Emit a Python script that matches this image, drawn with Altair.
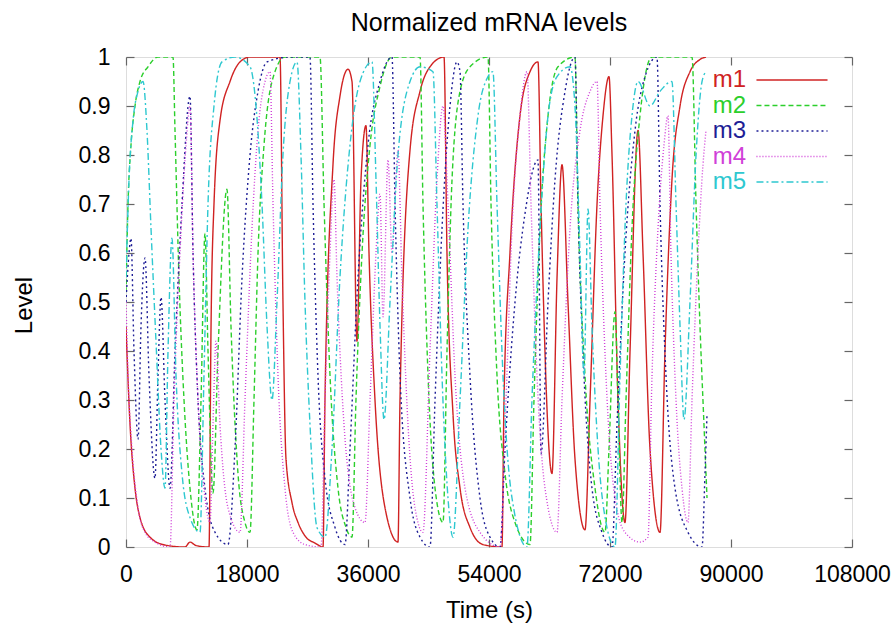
import altair as alt
import pandas as pd

# ---- data (time in s, normalized level) ----
series_names = ["m1", "m2", "m3", "m4", "m5"]

m1_t = [0, 600, 1340, 2080, 3570, 5800, 8780, 9520, 10410, 12350, 12650, 13090, 13980, 15470, 16960, 18450,
        22910, 23350, 23800, 24700, 25590, 26780, 28120, 29310, 29600, 30790, 31830, 33030, 33620, 34360, 34960,
        35700, 36150, 37040, 38530, 40460, 40760, 42250, 43740, 45220, 47310, 47750, 48650, 49690, 51170, 53110,
        55930, 56230, 57120, 58610, 60100, 61290, 61740, 63370, 64120, 64860, 65750, 66790, 68280, 69030, 70070,
        70960, 71850, 72300, 73190, 74230, 74980, 76170, 76910, 77950, 79440, 80180, 81220, 82420, 83900, 85390, 86280]
m1_v = [0.45, 0.25, 0.12, 0.06, 0.02, 0.004, 0.0, 0.01, 0.003, 0.0, 0.45, 0.7, 0.87, 0.95, 0.99, 1.0,
        1.0, 0.5, 0.18, 0.09, 0.05, 0.02, 0.008, 0.0, 0.3, 0.78, 0.92, 0.975, 0.95, 0.42, 0.75,
        0.86, 0.6, 0.3, 0.08, 0.01, 0.3, 0.81, 0.93, 0.98, 1.0, 0.6, 0.27, 0.12, 0.04, 0.005,
        0.0, 0.3, 0.6, 0.88, 0.97, 0.99, 0.7, 0.15, 0.55, 0.78, 0.5, 0.18, 0.035, 0.3, 0.7,
        0.88, 0.96, 0.8, 0.3, 0.05, 0.4, 0.85, 0.6, 0.2, 0.03, 0.4, 0.75, 0.9, 0.97, 0.995, 1.0]

m2_t = [0, 300, 740, 1340, 2080, 3270, 4760, 6990, 7290, 7880, 8630, 9520, 10560, 11160, 11750, 12200, 12940,
        13690, 15020, 15620, 16660, 17700, 18450, 19040, 19640, 20530, 21720, 23650, 28860, 29460, 30350, 31540,
        32730, 33620, 34210, 35110, 36300, 37790, 39570, 43740, 44180, 44930, 45970, 47160, 47750, 48500, 49690,
        51170, 53850, 54300, 55190, 56380, 57870, 60100, 60690, 61590, 62780, 64260, 66790, 67240, 68280, 69770,
        71260, 71850, 72740, 73190, 73790, 74380, 75270, 76460, 78250, 84200, 84800, 85390, 85980, 86430]
m2_v = [0.52, 0.7, 0.82, 0.9, 0.95, 0.98, 1.0, 1.0, 0.85, 0.55, 0.3, 0.12, 0.035, 0.3, 0.64, 0.4, 0.11,
        0.4, 0.73, 0.45, 0.15, 0.05, 0.03, 0.3, 0.6, 0.82, 0.95, 1.0, 1.0, 0.7, 0.35, 0.12,
        0.04, 0.02, 0.3, 0.6, 0.82, 0.94, 1.0, 1.0, 0.7, 0.35, 0.12, 0.05, 0.4, 0.75, 0.93,
        0.98, 1.0, 0.7, 0.35, 0.15, 0.05, 0.005, 0.3, 0.65, 0.88, 0.98, 1.0, 0.7, 0.35, 0.12,
        0.03, 0.2, 0.48, 0.3, 0.05, 0.3, 0.65, 0.88, 1.0, 1.0, 0.7, 0.45, 0.25, 0.1]

m3_t = [0, 450, 740, 1190, 1790, 2230, 2830, 3420, 4310, 4760, 5210, 5800, 6550, 7290, 8330, 9520, 9970,
        10710, 11750, 13240, 15170, 16210, 17260, 18450, 19640, 20980, 24400, 27370, 27820, 28560, 29600, 31090,
        32580, 33320, 34510, 36000, 37790, 39570, 40020, 40760, 42250, 43740, 45220, 45970, 47010, 48200, 49240,
        49690, 50130, 51170, 52660, 54150, 55640, 56380, 57870, 59350, 61290, 61740, 62780, 63820, 65310, 66790,
        67240, 68130, 69320, 70810, 72300, 73040, 74230, 75720, 77210, 78990, 79440, 80330, 81670, 83600, 85690,
        86130, 86430]
m3_v = [0.5, 0.6, 0.63, 0.4, 0.22, 0.45, 0.59, 0.35, 0.14, 0.35, 0.51, 0.3, 0.12, 0.4, 0.7, 0.92, 0.6,
        0.3, 0.12, 0.03, 0.005, 0.2, 0.55, 0.8, 0.93, 0.99, 1.0, 1.0, 0.7, 0.35, 0.14, 0.04,
        0.005, 0.2, 0.55, 0.82, 0.95, 1.0, 0.7, 0.35, 0.1, 0.02, 0.0, 0.3, 0.65, 0.9, 0.99,
        0.97, 0.7, 0.35, 0.1, 0.02, 0.0, 0.2, 0.5, 0.68, 0.79, 0.19, 0.5, 0.75, 0.93, 1.0,
        0.7, 0.35, 0.12, 0.03, 0.0, 0.25, 0.6, 0.85, 0.96, 1.0, 0.7, 0.35, 0.12, 0.03, 0.0,
        0.15, 0.27]

m4_t = [0, 300, 890, 1790, 2830, 4310, 6550, 7140, 8030, 8930, 9520, 9970, 10710, 11750, 12500, 12940, 13390,
        13980, 15170, 16960, 17700, 18740, 19640, 20680, 21420, 21870, 22610, 23650, 24840, 26630, 29010, 29600,
        30350, 30940, 31390, 32430, 34070, 35550, 36300, 37190, 37790, 38230, 38980, 39570, 40460, 41050, 41950,
        42990, 44180, 45220, 46260, 47160, 47900, 48940, 50430, 52660, 55640, 56530, 57420, 58610, 59650, 60250,
        61140, 62330, 64120, 64860, 66050, 67540, 69030, 70070, 70510, 71400, 72740, 74230, 76460, 77650, 78250,
        79140, 80030, 80620, 81070, 81820, 82710, 83600, 84200, 85090, 85830, 86280]
m4_v = [0.5, 0.35, 0.2, 0.08, 0.03, 0.01, 0.0, 0.3, 0.6, 0.82, 0.9, 0.6, 0.3, 0.1, 0.05, 0.25, 0.42,
        0.25, 0.08, 0.03, 0.3, 0.65, 0.85, 0.95, 0.97, 0.7, 0.35, 0.12, 0.03, 0.005, 0.0, 0.3,
        0.6, 0.75, 0.55, 0.25, 0.08, 0.05, 0.3, 0.6, 0.72, 0.47, 0.79, 0.6, 0.81, 0.55, 0.25,
        0.08, 0.03, 0.4, 0.75, 0.9, 0.7, 0.35, 0.12, 0.03, 0.0, 0.3, 0.65, 0.88, 0.97, 0.7,
        0.35, 0.12, 0.03, 0.3, 0.65, 0.85, 0.93, 0.95, 0.7, 0.35, 0.1, 0.03, 0.01, 0.02, 0.35,
        0.65, 0.82, 0.88, 0.6, 0.3, 0.12, 0.05, 0.3, 0.6, 0.78, 0.85]

m5_t = [0, 450, 1040, 1790, 2530, 3120, 3720, 4460, 5210, 5800, 6250, 6840, 7440, 8330, 9520, 11010, 11600,
        12200, 13090, 14280, 16210, 18450, 19340, 20230, 20980, 21720, 22460, 23350, 24400, 25440, 26030, 26630,
        27370, 28410, 29600, 30640, 31830, 33320, 34810, 36600, 37190, 37790, 38380, 39270, 40460, 42250, 43740,
        45670, 46260, 47010, 47900, 48650, 49690, 50880, 52360, 53850, 54590, 55190, 56080, 57420, 59650, 60390,
        61590, 62780, 64120, 66050, 66790, 67540, 68130, 68730, 69320, 70220, 71400, 72740, 73490, 74380, 75270,
        76170, 77950, 79440, 81220, 81820, 82420, 83010, 83900, 84800, 85690, 86280]
m5_v = [0.55, 0.75, 0.87, 0.93, 0.95, 0.85, 0.65, 0.42, 0.2, 0.12, 0.4, 0.63, 0.35, 0.15, 0.06, 0.03, 0.35,
        0.7, 0.9, 0.99, 1.0, 0.98, 0.9, 0.7, 0.45, 0.3, 0.5, 0.8, 0.95, 0.99, 0.8, 0.5,
        0.25, 0.04, 0.02, 0.2, 0.55, 0.82, 0.95, 0.99, 0.75, 0.45, 0.26, 0.5, 0.8, 0.95, 0.98,
        0.97, 0.7, 0.35, 0.1, 0.02, 0.3, 0.65, 0.88, 0.96, 0.97, 0.7, 0.35, 0.1, 0.0, 0.3,
        0.65, 0.88, 0.96, 0.98, 0.9, 0.6, 0.35, 0.69, 0.45, 0.2, 0.05, 0.0, 0.35, 0.7, 0.88,
        0.95, 0.9, 0.93, 0.95, 0.7, 0.45, 0.26, 0.5, 0.8, 0.95, 0.97]

x_ticks = [0, 18000, 36000, 54000, 72000, 90000, 108000]
y_ticks = [0, 0.1, 0.2, 0.3, 0.4, 0.5, 0.6, 0.7, 0.8, 0.9, 1]

line_colors = ["#d02222", "#2ccf2c", "#1e1e96", "#d040d8", "#2ec8d0"]
line_dashes = [[1, 0], [5, 3], [2, 3], [1, 2], [7, 3, 2, 3]]

# ---- build table ----
rows = []
for name, ts, vs in zip(series_names, [m1_t, m2_t, m3_t, m4_t, m5_t], [m1_v, m2_v, m3_v, m4_v, m5_v]):
    for t, v in zip(ts, vs):
        rows.append({"t": t, "v": v, "series": name})
df = pd.DataFrame(rows)
frame_df = pd.DataFrame({"t": [x_ticks[0], x_ticks[-1]], "v": [y_ticks[0], y_ticks[-1]]})

W, H = 726, 490
FONT = "Liberation Sans"
GRAY = "#666666"

xscale = alt.Scale(domain=[0, 108000], nice=False, zero=False)
yscale = alt.Scale(domain=[0, 1], nice=False, zero=False)

legend = alt.Legend(
    title=None, orient="none", legendX=654, legendY=11, padding=0,
    symbolType="M-5,0H5", symbolSize=202, symbolStrokeWidth=1.4,
    labelAlign="right", labelOffset={"expr": "-58"}, labelBaseline="middle",
    labelFont=FONT, labelFontSize=24, rowPadding=1.5,
    labelColor={"expr": "scale('color', datum.value)"},
)

lines = alt.Chart(df).mark_line(strokeWidth=1.4, interpolate="monotone", clip=True).encode(
    x=alt.X("t:Q", scale=xscale, axis=alt.Axis(
        values=x_ticks, format="d", title="Time (s)", orient="bottom", tickSize=0, domain=False, grid=False,
        labelFont=FONT, labelFontSize=23, labelColor="black", labelPadding=16, labelFlush=False,
        labelOverlap=False,
        titleFont=FONT, titleFontSize=24, titleFontWeight="normal", titleColor="black",
        titleBaseline="alphabetic", titleY=70, titleX=W / 2, titleAlign="center")),
    y=alt.Y("v:Q", scale=yscale, axis=alt.Axis(
        values=y_ticks, format="~g", title="Level", orient="left", tickSize=0, domain=False, grid=False,
        labelFont=FONT, labelFontSize=23, labelColor="black", labelPadding=16, labelFlush=False,
        labelOverlap=False,
        titleFont=FONT, titleFontSize=24, titleFontWeight="normal", titleColor="black",
        titleAngle=-90, titleBaseline="alphabetic", titleAlign="center", titleX=-95, titleY=248)),
    color=alt.Color("series:N", scale=alt.Scale(domain=series_names, range=line_colors), legend=legend),
    strokeDash=alt.StrokeDash("series:N", scale=alt.Scale(domain=series_names, range=line_dashes), legend=legend),
)

def tick_layer(xorient, yorient):
    return alt.Chart(frame_df).mark_point(opacity=0).encode(
        x=alt.X("t:Q", scale=xscale, axis=alt.Axis(
            orient=xorient, offset=-H, values=x_ticks, labels=False, domain=False, grid=False,
            tickSize=8, tickColor=GRAY, tickWidth=1.2, title=None, minExtent=0, maxExtent=0)),
        y=alt.Y("v:Q", scale=yscale, axis=alt.Axis(
            orient=yorient, offset=-W, values=y_ticks, labels=False, domain=False, grid=False,
            tickSize=8, tickColor=GRAY, tickWidth=1.2, title=None, minExtent=0, maxExtent=0)),
    )

chart = alt.layer(lines, tick_layer("top", "right"), tick_layer("bottom", "left")).resolve_scale(
    x="independent", y="independent"
).resolve_axis(
    x="independent", y="independent"
).properties(
    width=W, height=H,
    autosize=alt.AutoSizeParams(type="none"),
    padding={"left": 126, "top": 57, "right": 43, "bottom": 76},
    title=alt.TitleParams("Normalized mRNA levels", font=FONT, fontSize=25, fontWeight="normal",
                          color="black", anchor="middle", offset=10),
).configure_view(
    stroke=GRAY, strokeWidth=2
).configure(background="white")

chart.save("out.html", embed_options={"renderer": "svg", "actions": False})
